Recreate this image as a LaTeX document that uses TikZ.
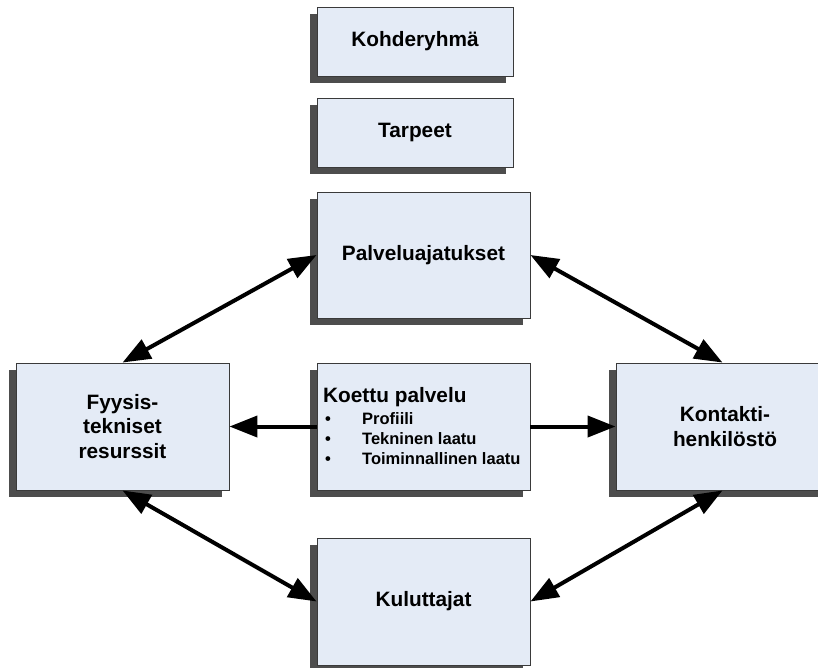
\documentclass[tikz,border=0pt]{standalone}
\usepackage{fontspec}
\setmainfont{Liberation Sans}
\usetikzlibrary{arrows.meta,shadows}
\definecolor{boxfill}{HTML}{E4EBF6}
\definecolor{boxline}{HTML}{3A3A3A}
\definecolor{shadowgray}{HTML}{4D4D4D}
\tikzset{
  box/.style={draw=boxline, line width=0.9pt, fill=boxfill,
    general shadow={fill=shadowgray, shadow xshift=-7pt, shadow yshift=-7pt},
    inner sep=0pt, align=center,
    font=\bfseries\fontsize{20.8}{24.5}\selectfont},
  smallbox/.style={box, minimum width=196pt, minimum height=69pt},
  bigbox/.style={box, minimum width=213pt, minimum height=127pt},
  title/.style={inner sep=0pt, anchor=base west, font=\bfseries\fontsize{20.8}{24}\selectfont},
  item/.style={inner sep=0pt, anchor=base west, font=\bfseries\fontsize{16.5}{20}\selectfont},
  tip/.style={Triangle[length=28pt, width=21pt]},
  link/.style={line width=4pt, {Triangle[length=28pt, width=21pt]}-{Triangle[length=28pt, width=21pt]}},
  oneway/.style={line width=4pt, -{Triangle[length=28pt, width=21pt]}}
}
\begin{document}
\begin{tikzpicture}[x=1pt, y=-1pt]
  \useasboundingbox (0,0) rectangle (818,667);
  \begin{scope}
    \clip (0,0) rectangle (818,667);
    % boxes
    \node[smallbox] (koh) at (415,41.5) {Kohderyhmä};
    \node[smallbox] (tar) at (415,132.5) {Tarpeet};
    \node[bigbox, minimum height=126pt] (pal) at (423.5,255) {Palveluajatukset};
    \node[bigbox] (fyy) at (122.5,426.5) {Fyysis-\\tekniset\\resurssit};
    \node[bigbox] (koe) at (423.5,426.5) {};
    \node[bigbox] (kon) at (722.5,426.5) {\hspace*{5pt}Kontakti-\\\hspace*{5pt}henkilöstö};
    \node[bigbox] (kul) at (423.5,601.5) {Kuluttajat};
    % contents of the central box
    \node[title] (koet) at (323,402) {Koettu palvelu};
    \node[item] (b1) at (325,424) {•};
    \node[item] (b2) at (325,444) {•};
    \node[item] (b3) at (325,464) {•};
    \node[item] (i1) at (362,424) {Profiili};
    \node[item] (i2) at (362,444) {Tekninen laatu};
    \node[item] (i3) at (362,464) {Toiminnallinen laatu};
    % connectors
    \draw[link] (pal.west) -- (fyy.north);
    \draw[link] (pal.east) -- (kon.north);
    \draw[link] (fyy.south) -- (kul.west);
    \draw[link] (kon.south) -- (kul.east);
    \draw[oneway] (koe.west) -- (fyy.east);
    \draw[oneway] (koe.east) -- (kon.west);
  \end{scope}
\end{tikzpicture}
\end{document}
